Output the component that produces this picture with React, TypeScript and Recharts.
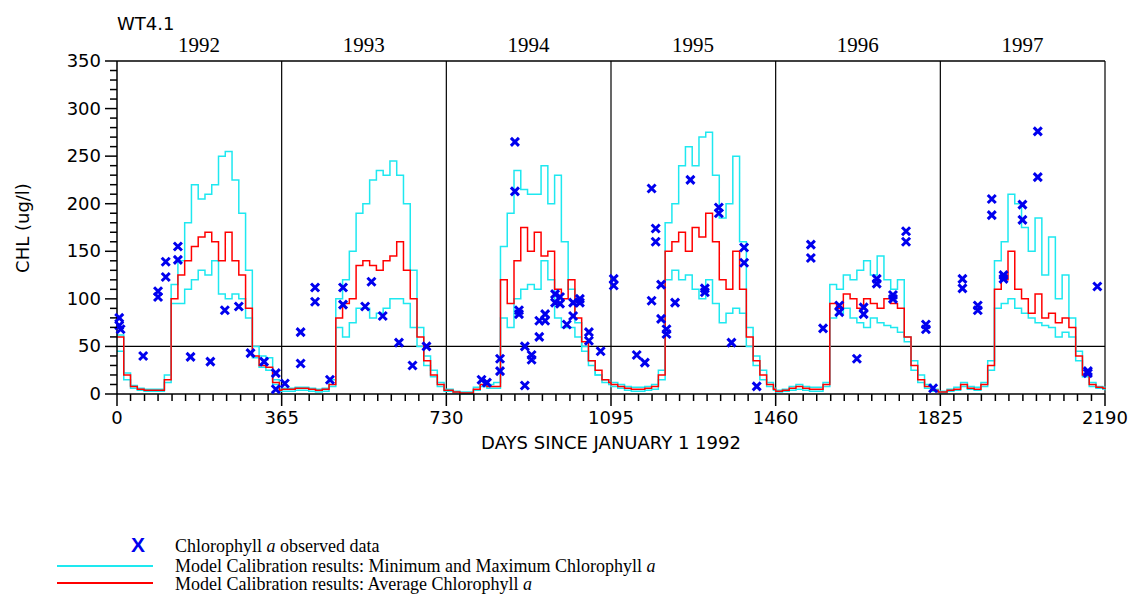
import React from "react";
import { ComposedChart, Line, Scatter, XAxis, YAxis, ReferenceLine } from "recharts";

// sample offsets within each year (days)
const offsets = [0, 15, 30, 45, 60, 75, 90, 105, 120, 135, 150, 165, 180, 195, 210, 225, 240, 255, 270, 285, 300, 315, 330, 345, 360];
const yearStarts = [0, 365, 730, 1095, 1460, 1825];
const yearLabels = ["1992", "1993", "1994", "1995", "1996", "1997"];

const avg92 = [60, 20, 8, 5, 4, 4, 4, 15, 100, 125, 140, 155, 165, 170, 160, 140, 170, 140, 125, 90, 40, 30, 28, 12, 4];
const max92 = [62, 22, 9, 6, 5, 5, 5, 20, 115, 140, 180, 220, 205, 210, 220, 250, 255, 225, 190, 130, 50, 40, 38, 15, 5];
const min92 = [45, 15, 6, 4, 3, 3, 3, 12, 95, 95, 110, 120, 130, 125, 140, 105, 100, 105, 100, 80, 38, 28, 25, 10, 3];

const avg93 = [5, 5, 6, 6, 5, 4, 5, 10, 80, 95, 100, 135, 140, 135, 130, 140, 145, 160, 130, 100, 60, 35, 20, 10, 4];
const max93 = [6, 6, 7, 7, 6, 5, 6, 15, 100, 120, 150, 190, 200, 225, 235, 230, 245, 230, 200, 130, 70, 40, 25, 12, 5];
const min93 = [3, 3, 4, 4, 3, 2, 3, 8, 70, 60, 75, 90, 90, 80, 85, 90, 100, 100, 95, 70, 50, 30, 18, 8, 3];

const avg94 = [4, 2, 1, 1, 5, 10, 8, 8, 120, 95, 140, 175, 150, 170, 145, 150, 110, 100, 120, 80, 55, 35, 25, 15, 12];
const max94 = [5, 3, 2, 2, 7, 14, 10, 12, 155, 190, 235, 215, 210, 210, 240, 200, 230, 160, 110, 75, 50, 35, 20, 15, 12];
const min94 = [3, 1, 0, 0, 4, 8, 6, 6, 80, 70, 100, 110, 115, 110, 140, 120, 80, 70, 70, 60, 45, 30, 20, 12, 10];

const avg95 = [10, 8, 6, 5, 5, 6, 8, 20, 150, 160, 170, 150, 175, 165, 190, 160, 120, 110, 150, 110, 60, 35, 20, 10, 5];
const max95 = [12, 10, 8, 7, 7, 8, 10, 25, 180, 200, 240, 260, 240, 270, 275, 230, 185, 200, 250, 160, 70, 40, 25, 12, 6];
const min95 = [8, 6, 4, 3, 3, 4, 5, 15, 120, 130, 120, 125, 110, 100, 120, 95, 75, 85, 90, 85, 50, 30, 15, 8, 4];

const avg96 = [3, 4, 6, 8, 6, 5, 5, 10, 95, 90, 105, 100, 90, 100, 95, 90, 100, 95, 90, 60, 30, 15, 8, 4, 2];
const max96 = [4, 5, 8, 10, 8, 7, 7, 12, 115, 110, 125, 120, 130, 140, 125, 145, 120, 110, 120, 60, 35, 20, 10, 5, 3];
const min96 = [2, 3, 4, 5, 4, 3, 3, 8, 80, 85, 90, 80, 75, 70, 80, 75, 72, 70, 65, 55, 25, 12, 6, 3, 2];

const avg97 = [2, 4, 5, 10, 6, 5, 10, 30, 110, 120, 150, 110, 100, 85, 105, 80, 85, 75, 80, 70, 40, 20, 10, 7, 6];
const max97 = [3, 5, 7, 12, 8, 7, 12, 35, 140, 160, 210, 200, 175, 150, 185, 125, 165, 100, 125, 80, 45, 25, 12, 8, 7];
const min97 = [1, 3, 4, 8, 5, 4, 8, 25, 90, 95, 100, 90, 85, 80, 75, 72, 70, 60, 65, 60, 35, 18, 8, 6, 5];

const avgYears = [avg92, avg93, avg94, avg95, avg96, avg97];
const maxYears = [max92, max93, max94, max95, max96, max97];
const minYears = [min92, min93, min94, min95, min96, min97];

const observedDays = [
  5, 5, 8, 58, 91, 91, 108, 108, 135, 135, 163, 207, 239, 270, 296, 326, 352, 352, 372,
  407, 407, 439, 439, 472, 501, 501, 550, 564, 589, 625, 655, 686,
  808, 820, 849, 849, 882, 882, 891, 891, 904, 904, 919, 919, 936, 936, 949, 949, 971, 971, 982, 982, 997, 1011, 1011, 1026, 1026, 1046, 1046, 1072,
  1101, 1101, 1152, 1170, 1185, 1185, 1194, 1194, 1206, 1206, 1218, 1218, 1237, 1271, 1303, 1303, 1334, 1334, 1362, 1390, 1390, 1418,
  1538, 1538, 1565, 1601, 1601, 1640, 1655, 1655, 1684, 1684, 1720, 1720, 1749, 1749, 1793, 1793, 1809,
  1874, 1874, 1908, 1908, 1939, 1939, 1965, 1965, 2007, 2007, 2041, 2041, 2152, 2152, 2173,
];
const observedChl = [
  80, 72, 68, 40, 108, 102, 139, 123, 155, 141, 39, 34, 88, 92, 43, 34, 22, 5, 11,
  65, 32, 112, 97, 15, 112, 94, 92, 118, 82, 54, 30, 50,
  15, 12, 37, 24, 265, 213, 84, 88, 50, 9, 41, 36, 77, 60, 84, 77, 105, 96, 102, 95, 73, 96, 82, 100, 96, 65, 56, 45,
  121, 114, 41, 33, 216, 98, 174, 160, 115, 79, 68, 63, 96, 225, 111, 107, 196, 190, 54, 154, 138, 8,
  157, 143, 69, 93, 86, 37, 91, 84, 121, 116, 104, 100, 171, 160, 73, 68, 6,
  121, 111, 93, 88, 205, 188, 125, 121, 199, 183, 276, 228, 24, 22, 113,
];

const xMajor = [0, 365, 730, 1095, 1460, 1825, 2190];
const yMajor = [0, 50, 100, 150, 200, 250, 300, 350];

const modelData = yearStarts.flatMap((start, yi) =>
  offsets.map((o, i) => ({ day: start + o, avg: avgYears[yi][i], max: maxYears[yi][i], min: minYears[yi][i] }))
);
modelData.push({ day: 2190, avg: 5, max: 6, min: 4 });
const observed = observedDays.map((d, i) => ({ day: d, chl: observedChl[i] }));

const xTicks: number[] = [];
for (let y = 0; y < 6; y++) for (let m = 0; m < 12; m++) xTicks.push(Math.round(y * 365 + m * 30.42));
xTicks.push(2190);
const yTicks: number[] = [];
for (let v = 0; v <= 350; v += 10) yTicks.push(v);

const axisFont = "'DejaVu Sans', sans-serif";

const XTick = (props: any) => {
  const { x, y, payload } = props;
  const major = xMajor.includes(payload.value);
  return (
    <g>
      <line x1={x} x2={x} y1={y - 8} y2={y - 8 + (major ? 12 : 7)} stroke="#000" strokeWidth={1.5} />
      {major && (
        <text x={x} y={y + 22} textAnchor="middle" fontSize={18} fontFamily={axisFont} fill="#000">
          {payload.value}
        </text>
      )}
    </g>
  );
};

const YTick = (props: any) => {
  const { x, y, payload } = props;
  const major = yMajor.includes(payload.value);
  return (
    <g>
      <line x1={x + 8} x2={x + 8 - (major ? 12 : 7)} y1={y} y2={y} stroke="#000" strokeWidth={1.5} />
      {major && (
        <text x={x - 8} y={y + 6} textAnchor="end" fontSize={18} fontFamily={axisFont} fill="#000">
          {payload.value}
        </text>
      )}
    </g>
  );
};

const Cross = (props: any) => {
  const { cx, cy } = props;
  return (
    <path d={`M${cx - 4},${cy - 4}L${cx + 4},${cy + 4}M${cx + 4},${cy - 4}L${cx - 4},${cy + 4}`} stroke="#0000ee" strokeWidth={3} />
  );
};

const plotLeft = 117;
const plotRight = 1105;
const xPos = (d: number) => plotLeft + ((plotRight - plotLeft) * d) / 2190;

export default function App() {
  return (
    <div style={{ position: "absolute", left: 0, top: 0, width: 1143, height: 594, background: "#fff" }}>
      <ComposedChart
        width={1143}
        height={470}
        data={modelData}
        margin={{ top: 61, right: 38, left: 57, bottom: 46 }}
      >
        <XAxis
          dataKey="day"
          type="number"
          domain={[0, 2190]}
          ticks={xTicks}
          interval={0}
          tick={<XTick />}
          tickLine={false}
          axisLine={{ stroke: "#000", strokeWidth: 1.5 }}
          height={30}
        />
        <YAxis
          type="number"
          domain={[0, 350]}
          ticks={yTicks}
          interval={0}
          tick={<YTick />}
          tickLine={false}
          axisLine={{ stroke: "#000", strokeWidth: 1.5 }}
          width={60}
        />
        <ReferenceLine y={350} stroke="#000" strokeWidth={1.5} />
        <ReferenceLine y={50} stroke="#000" strokeWidth={1.2} />
        {xMajor.slice(1).map((d) => (
          <ReferenceLine key={d} x={d} stroke="#000" strokeWidth={1.2} />
        ))}
        <Line type="stepAfter" dataKey="max" stroke="#1ee8f0" strokeWidth={1.5} dot={false} isAnimationActive={false} />
        <Line type="stepAfter" dataKey="min" stroke="#1ee8f0" strokeWidth={1.5} dot={false} isAnimationActive={false} />
        <Line type="stepAfter" dataKey="avg" stroke="#ff0000" strokeWidth={1.5} dot={false} isAnimationActive={false} />
        <Scatter data={observed} dataKey="chl" shape={<Cross />} isAnimationActive={false} />
      </ComposedChart>

      <div style={{ position: "absolute", left: 117, top: 13, fontFamily: axisFont, fontSize: 18 }}>WT4.1</div>
      {yearLabels.map((t, i) => (
        <div
          key={t}
          style={{ position: "absolute", left: xPos(yearStarts[i] + 182) - 40, width: 80, textAlign: "center", top: 33, fontFamily: "'Liberation Serif', serif", fontSize: 21 }}
        >
          {t}
        </div>
      ))}
      <div style={{ position: "absolute", left: 0, top: 432, width: 1222, textAlign: "center", fontFamily: axisFont, fontSize: 18 }}>
        DAYS SINCE JANUARY 1 1992
      </div>
      <div
        style={{ position: "absolute", left: 22, top: 228, transform: "translate(-50%, -50%) rotate(-90deg)", fontFamily: axisFont, fontSize: 18, whiteSpace: "nowrap" }}
      >
        CHL (ug/l)
      </div>

      <div style={{ position: "absolute", left: 0, top: 532, fontFamily: "'Liberation Serif', serif", fontSize: 18, lineHeight: "18px" }}>
        <div style={{ position: "absolute", left: 131, top: 2, color: "#0000ee", fontFamily: "'Liberation Sans', sans-serif", fontWeight: "bold", fontSize: 21, lineHeight: "21px" }}>X</div>
        <div style={{ position: "absolute", left: 175, top: 5, whiteSpace: "nowrap" }}>Chlorophyll <i>a</i> observed data</div>
        <div style={{ position: "absolute", left: 57, top: 33, width: 96, borderTop: "2px solid #1ee8f0" }} />
        <div style={{ position: "absolute", left: 175, top: 25, whiteSpace: "nowrap" }}>Model Calibration results: Minimum and Maximum Chlorophyll <i>a</i></div>
        <div style={{ position: "absolute", left: 57, top: 50, width: 96, borderTop: "2px solid #ff0000" }} />
        <div style={{ position: "absolute", left: 175, top: 43, whiteSpace: "nowrap" }}>Model Calibration results: Average Chlorophyll <i>a</i></div>
      </div>
    </div>
  );
}
